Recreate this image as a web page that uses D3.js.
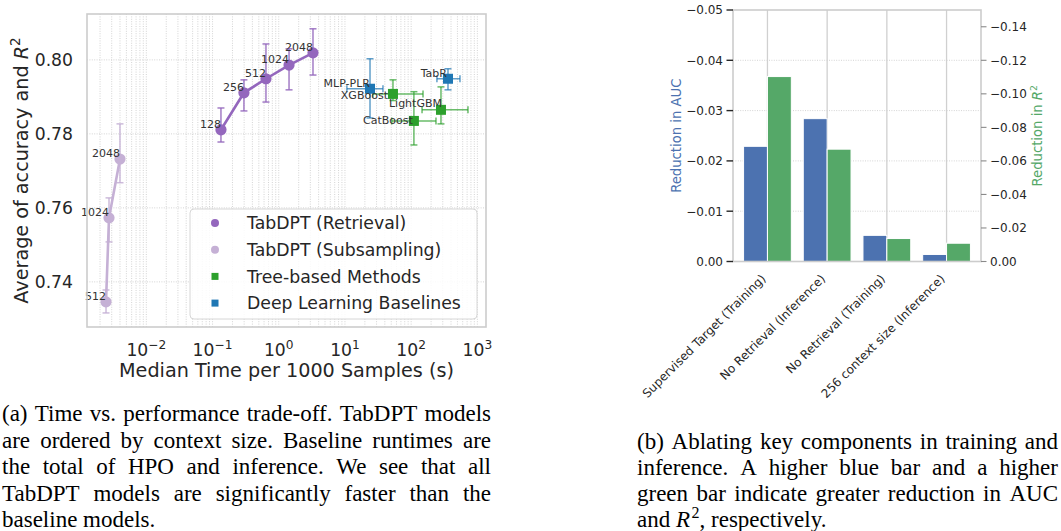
<!DOCTYPE html>
<html>
<head>
<meta charset="utf-8">
<script src="https://cdn.jsdelivr.net/npm/d3@7"></script>
<style>
  body { margin: 0; background: #fff; }
  svg { display: block; }
</style>
</head>
<body>
<svg id="fig" width="1061" height="531"></svg>
<script>
// ---- panel (a): time vs performance ----
const timeLimits = [0.00127, 1350];
const scoreLimits = [0.7278, 0.8124];
const scoreTicks = [0.74, 0.76, 0.78, 0.80];
const timeTickExps = [-2, -1, 0, 1, 2, 3];

const retrievalCtx = [128, 256, 512, 1024, 2048];
const retrievalTime = [0.134, 0.298, 0.641, 1.43, 3.29];
const retrievalScore = [0.7811, 0.7911, 0.7949, 0.7986, 0.8019];
const retrievalLo = [0.7778, 0.7862, 0.7886, 0.7919, 0.7959];
const retrievalHi = [0.7870, 0.7946, 0.8043, 0.8030, 0.8084];

const subsampleCtx = [512, 1024, 2048];
const subsampleTime = [0.00246, 0.00273, 0.0040];
const subsampleScore = [0.7346, 0.7573, 0.7732];
const subsampleLo = [0.7316, 0.7508, 0.7668];
const subsampleHi = [0.7378, 0.7627, 0.7827];

const baselineNames = ['MLP-PLR', 'XGBoost', 'LightGBM', 'CatBoost', 'TabR'];
const baselineKind = ['deep', 'tree', 'tree', 'tree', 'deep'];
const baselineTime = [23.9, 53.1, 282, 110, 360];
const baselineTimeLo = [10.7, 26.4, 146, 51, 245];
const baselineTimeHi = [37.5, 151, 721, 237, 546];
const baselineScore = [0.7922, 0.7908, 0.7865, 0.7835, 0.7949];
const baselineScoreLo = [0.7843, 0.7890, 0.7827, 0.7770, 0.7919];
const baselineScoreHi = [0.8003, 0.7946, 0.7927, 0.7914, 0.7976];

const legendLabels = ['TabDPT (Retrieval)', 'TabDPT (Subsampling)', 'Tree-based Methods', 'Deep Learning Baselines'];

// ---- panel (b): ablations ----
const ablations = ['Supervised Target (Training)', 'No Retrieval (Inference)', 'No Retrieval (Training)', '256 context size (Inference)'];
const aucChange = [-0.0229, -0.0284, -0.0052, -0.0014];
const r2Change = [-0.1103, -0.0670, -0.0137, -0.0109];
const aucLimits = [0, -0.05];
const r2Limits = [0, -0.15];
const aucTicks = [0, -0.01, -0.02, -0.03, -0.04, -0.05];
const r2Ticks = [0, -0.02, -0.04, -0.06, -0.08, -0.10, -0.12, -0.14];

const captionA = [
  '(a) Time vs. performance trade-off. TabDPT models',
  'are ordered by context size. Baseline runtimes are',
  'the total of HPO and inference. We see that all',
  'TabDPT models are significantly faster than the',
  'baseline models.'
];
const captionB = [
  '(b) Ablating key components in training and',
  'inference. A higher blue bar and a higher',
  'green bar indicate greater reduction in AUC'
];

const FONT = 'DejaVu Sans, sans-serif';
const SERIF = 'Liberation Serif, Times New Roman, serif';
const INK = '#262626';
const colors = {
  retrieval: '#9467bd',
  subsample: '#c5b0d5',
  tree: '#2ca02c',
  deep: '#1f77b4',
  auc: '#4c72b0',
  r2: '#55a868',
  frame: '#cccccc'
};

const svg = d3.select('#fig');
svg.append('rect').attr('width', 1061).attr('height', 531).attr('fill', '#fff');

// ================= panel (a) =================
const A = { left: 87, right: 486, top: 14, bottom: 327 };
const x = d3.scaleLog().domain(timeLimits).range([A.left, A.right]);
const y = d3.scaleLinear().domain(scoreLimits).range([A.bottom, A.top]);

const gA = svg.append('g').attr('font-family', FONT);

// grid: minor + major verticals, major horizontals, all dotted
const gridVals = [];
for (let e = -3; e <= 3; e++) {
  for (let m = 1; m <= 9; m++) {
    const v = m * Math.pow(10, e);
    if (v > timeLimits[0] && v < timeLimits[1]) gridVals.push(v);
  }
}
gA.append('g').selectAll('line')
  .data(gridVals)
  .enter().append('line')
  .attr('x1', d => x(d)).attr('x2', d => x(d))
  .attr('y1', A.top).attr('y2', A.bottom)
  .attr('stroke', '#cfcfcf').attr('stroke-width', 0.9)
  .attr('stroke-dasharray', '1,1.4');
gA.append('g').selectAll('line')
  .data(scoreTicks)
  .enter().append('line')
  .attr('x1', A.left).attr('x2', A.right)
  .attr('y1', d => y(d)).attr('y2', d => y(d))
  .attr('stroke', '#cfcfcf').attr('stroke-width', 0.9)
  .attr('stroke-dasharray', '1,1.4');

function errV(g, cx, v0, v1, color, op) {
  g.append('line').attr('x1', cx).attr('x2', cx).attr('y1', y(v0)).attr('y2', y(v1))
    .attr('stroke', color).attr('stroke-width', 1.5).attr('opacity', op);
  for (const v of [v0, v1]) {
    g.append('line').attr('x1', cx - 3.5).attr('x2', cx + 3.5).attr('y1', y(v)).attr('y2', y(v))
      .attr('stroke', color).attr('stroke-width', 1.5).attr('opacity', op);
  }
}
function errH(g, cy, t0, t1, color, op) {
  g.append('line').attr('x1', x(t0)).attr('x2', x(t1)).attr('y1', cy).attr('y2', cy)
    .attr('stroke', color).attr('stroke-width', 1.5).attr('opacity', op);
  for (const t of [t0, t1]) {
    g.append('line').attr('x1', x(t)).attr('x2', x(t)).attr('y1', cy - 3.5).attr('y2', cy + 3.5)
      .attr('stroke', color).attr('stroke-width', 1.5).attr('opacity', op);
  }
}

function drawSeries(ctx, times, scores, lo, hi, color) {
  const g = gA.append('g');
  const pts = times.map((t, i) => [x(t), y(scores[i])]);
  g.append('path').attr('d', d3.line()(pts))
    .attr('fill', 'none').attr('stroke', color).attr('stroke-width', 2.6);
  times.forEach((t, i) => errV(g, x(t), lo[i], hi[i], color, 0.85));
  g.selectAll('circle').data(pts).enter().append('circle')
    .attr('cx', d => d[0]).attr('cy', d => d[1]).attr('r', 5.6)
    .attr('fill', color);
  g.selectAll('text').data(ctx).enter().append('text')
    .attr('x', (d, i) => pts[i][0])
    .attr('y', (d, i) => pts[i][1] - 2)
    .attr('text-anchor', 'end')
    .attr('font-size', 11).attr('fill', '#333')
    .text(d => d);
}
drawSeries(subsampleCtx, subsampleTime, subsampleScore, subsampleLo, subsampleHi, colors.subsample);
drawSeries(retrievalCtx, retrievalTime, retrievalScore, retrievalLo, retrievalHi, colors.retrieval);

// baselines
const gB = gA.append('g');
baselineNames.forEach((n, i) => {
  const c = colors[baselineKind[i]];
  const cx = x(baselineTime[i]), cy = y(baselineScore[i]);
  errV(gB, cx, baselineScoreLo[i], baselineScoreHi[i], c, 0.7);
  errH(gB, cy, baselineTimeLo[i], baselineTimeHi[i], c, 0.7);
});
gB.selectAll('rect').data(baselineNames).enter().append('rect')
  .attr('x', (d, i) => x(baselineTime[i]) - 5)
  .attr('y', (d, i) => y(baselineScore[i]) - 5)
  .attr('width', 10).attr('height', 10)
  .attr('fill', (d, i) => colors[baselineKind[i]]);
// label nudges (px) so names sit like in the source figure
const labelShift = [[0, -2], [-5, 5], [1, -3], [-1, 3], [-1, -2]];
gB.selectAll('text').data(baselineNames).enter().append('text')
  .attr('x', (d, i) => x(baselineTime[i]) + labelShift[i][0])
  .attr('y', (d, i) => y(baselineScore[i]) + labelShift[i][1])
  .attr('text-anchor', 'end')
  .attr('font-size', 11).attr('fill', '#333')
  .text(d => d);

// legend
const leg = gA.append('g');
leg.append('rect').attr('x', 190).attr('y', 209).attr('width', 287).attr('height', 110)
  .attr('rx', 4).attr('fill', '#fff').attr('fill-opacity', 0.85)
  .attr('stroke', '#d6d6d6').attr('stroke-width', 1);
const legColors = [colors.retrieval, colors.subsample, colors.tree, colors.deep];
legendLabels.forEach((lab, i) => {
  const cy = 223 + i * 26.7;
  if (i < 2) {
    leg.append('circle').attr('cx', 215).attr('cy', cy).attr('r', 4).attr('fill', legColors[i]);
  } else {
    leg.append('rect').attr('x', 211.5).attr('y', cy - 3.5).attr('width', 7).attr('height', 7).attr('fill', legColors[i]);
  }
  leg.append('text').attr('x', 247).attr('y', cy).attr('dy', '0.36em')
    .attr('font-size', 17.3).attr('fill', INK).text(lab);
});

// frame
gA.append('rect').attr('x', A.left).attr('y', A.top)
  .attr('width', A.right - A.left).attr('height', A.bottom - A.top)
  .attr('fill', 'none').attr('stroke', colors.frame).attr('stroke-width', 1.6);

// y ticks
gA.append('g').selectAll('text').data(scoreTicks).enter().append('text')
  .attr('x', 73).attr('y', d => y(d)).attr('dy', '0.36em')
  .attr('text-anchor', 'end').attr('font-size', 17.2).attr('fill', INK)
  .text(d => d3.format('.2f')(d));
// x ticks 10^e
timeTickExps.forEach(e => {
  const t = gA.append('text').attr('x', x(Math.pow(10, e))).attr('y', 356)
    .attr('text-anchor', 'middle').attr('font-size', 17.2).attr('fill', INK);
  t.append('tspan').text('10');
  t.append('tspan').attr('dy', -7).attr('font-size', 12.2).text(e < 0 ? '\u2212' + (-e) : e);
});
gA.append('text').attr('x', (A.left + A.right) / 2).attr('y', 377)
  .attr('text-anchor', 'middle').attr('font-size', 19.2).attr('fill', INK)
  .text('Median Time per 1000 Samples (s)');
const yl = gA.append('text')
  .attr('transform', `translate(28,${(A.top + A.bottom) / 2}) rotate(-90)`)
  .attr('text-anchor', 'middle').attr('font-size', 19.2).attr('fill', INK);
yl.append('tspan').text('Average of accuracy and ');
yl.append('tspan').attr('font-style', 'italic').text('R');
yl.append('tspan').attr('dy', -8).attr('font-size', 13.5).text('2');

// ================= panel (b) =================
const B = { left: 733, right: 981, top: 10, bottom: 261.5 };
const xb = d3.scalePoint().domain(ablations).range([B.left, B.right]).padding(0.577);
const step = xb.step();
const yAuc = d3.scaleLinear().domain(aucLimits).range([B.bottom, B.top]);
const yR2 = d3.scaleLinear().domain(r2Limits).range([B.bottom, B.top]);

const gC = svg.append('g').attr('font-family', FONT);

gC.append('g').selectAll('line').data(ablations).enter().append('line')
  .attr('x1', d => xb(d)).attr('x2', d => xb(d))
  .attr('y1', B.top).attr('y2', B.bottom)
  .attr('stroke', '#d0d0d0').attr('stroke-width', 1.3);
gC.append('g').selectAll('line').data(aucTicks.slice(1, -1)).enter().append('line')
  .attr('x1', B.left).attr('x2', B.right)
  .attr('y1', d => yAuc(d)).attr('y2', d => yAuc(d))
  .attr('stroke', '#cfcfcf').attr('stroke-width', 0.9).attr('stroke-dasharray', '1,1.4');

const barW = step * 0.4;
gC.append('g').selectAll('rect').data(ablations).enter().append('rect')
  .attr('x', d => xb(d) - barW).attr('width', barW)
  .attr('y', (d, i) => yAuc(aucChange[i]))
  .attr('height', (d, i) => yAuc(0) - yAuc(aucChange[i]))
  .attr('fill', colors.auc).attr('stroke', '#fff').attr('stroke-width', 1);
gC.append('g').selectAll('rect').data(ablations).enter().append('rect')
  .attr('x', d => xb(d)).attr('width', barW)
  .attr('y', (d, i) => yR2(r2Change[i]))
  .attr('height', (d, i) => yR2(0) - yR2(r2Change[i]))
  .attr('fill', colors.r2).attr('stroke', '#fff').attr('stroke-width', 1);

gC.append('rect').attr('x', B.left).attr('y', B.top)
  .attr('width', B.right - B.left).attr('height', B.bottom - B.top)
  .attr('fill', 'none').attr('stroke', colors.frame).attr('stroke-width', 1.6);

// left axis
const la = gC.append('g');
la.selectAll('line').data(aucTicks).enter().append('line')
  .attr('x1', B.left - 6.5).attr('x2', B.left)
  .attr('y1', d => yAuc(d)).attr('y2', d => yAuc(d))
  .attr('stroke', INK).attr('stroke-width', 1.4);
la.selectAll('text').data(aucTicks).enter().append('text')
  .attr('x', B.left - 10).attr('y', d => yAuc(d)).attr('dy', '0.36em')
  .attr('text-anchor', 'end').attr('font-size', 12).attr('fill', INK)
  .text(d => d3.format('.2f')(d));
// right axis
const ra = gC.append('g');
ra.selectAll('line').data(r2Ticks).enter().append('line')
  .attr('x1', B.right).attr('x2', B.right + 5.5)
  .attr('y1', d => yR2(d)).attr('y2', d => yR2(d))
  .attr('stroke', '#8a8a8a').attr('stroke-width', 1.1);
ra.selectAll('text').data(r2Ticks).enter().append('text')
  .attr('x', B.right + 9).attr('y', d => yR2(d)).attr('dy', '0.36em')
  .attr('font-size', 12).attr('fill', INK)
  .text(d => d3.format('.2f')(d));

gC.append('text')
  .attr('transform', `translate(681,${(B.top + B.bottom) / 2}) rotate(-90)`)
  .attr('text-anchor', 'middle').attr('font-size', 13.2).attr('fill', colors.auc)
  .text('Reduction in AUC');
const rl = gC.append('text')
  .attr('transform', `translate(1042,${(B.top + B.bottom) / 2}) rotate(-90)`)
  .attr('text-anchor', 'middle').attr('font-size', 13.2).attr('fill', colors.r2);
rl.append('tspan').text('Reduction in ');
rl.append('tspan').attr('font-style', 'italic').text('R');
rl.append('tspan').attr('dy', -5.5).attr('font-size', 9.3).text('2');

gC.append('g').selectAll('text').data(ablations).enter().append('text')
  .attr('transform', d => `translate(${xb(d) - 1},279.5) rotate(-45)`)
  .attr('text-anchor', 'end').attr('font-size', 12).attr('fill', INK)
  .text(d => d);

// ================= captions =================
const gT = svg.append('g').attr('font-family', SERIF).attr('font-size', 23).attr('fill', '#000');
function captionLine(words, x0, x1, yy, justify) {
  const nodes = words.map(w => gT.append('text').attr('y', yy).text(w));
  const widths = nodes.map(n => n.node().getComputedTextLength());
  const gap = justify ? (x1 - x0 - d3.sum(widths)) / (words.length - 1) : 5.75;
  let cx = x0;
  nodes.forEach((n, i) => { n.attr('x', cx); cx += widths[i] + gap; });
}
const lineGapA = 26.5, lineGapB = 26;
captionA.forEach((line, i) => {
  captionLine(line.split(' '), 2, 491, 421 + i * lineGapA, i < captionA.length - 1);
});
captionB.forEach((line, i) => {
  captionLine(line.split(' '), 637, 1058, 449 + i * lineGapB, true);
});
const last = gT.append('text').attr('x', 637).attr('y', 449 + 3 * lineGapB);
last.append('tspan').text('and ');
last.append('tspan').attr('font-style', 'italic').text('R');
last.append('tspan').attr('dx', 1.5).attr('dy', -9).attr('font-size', 16).text('2');
last.append('tspan').attr('dy', 9).text(', respectively.');
</script>
</body>
</html>
